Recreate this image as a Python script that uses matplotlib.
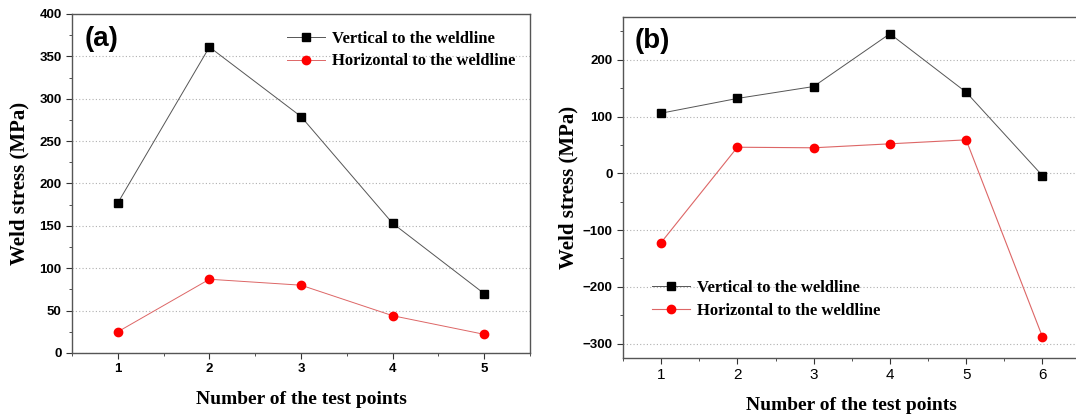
import matplotlib
matplotlib.use("Agg")
import matplotlib.pyplot as plt
from matplotlib.ticker import MultipleLocator

# test points and measured weld stress (MPa)
points_a = [1, 2, 3, 4, 5]
vert_a = [177, 361, 279, 153, 70]
horiz_a = [25, 87, 80, 44, 22]

points_b = [1, 2, 3, 4, 5, 6]
vert_b = [106, 132, 153, 246, 143, -4]
horiz_b = [-122, 46, 45, 52, 59, -288]

lab_v = "Vertical to the weldline"
lab_h = "Horizontal to the weldline"

serif_b = {"family": "Liberation Serif", "weight": "bold"}
leg_font = {"family": "Liberation Serif", "weight": "bold", "size": 12}

fig = plt.figure(figsize=(10.76, 4.17), dpi=100)
ax1 = fig.add_axes([0.0669, 0.1535, 0.4257, 0.813])
# panel (b) runs slightly past the right edge of the figure
ax2 = fig.add_axes([0.579, 0.1422, 0.4252, 0.8163])


def style(ax, bold_x=True, ypad=7):
    for s in ax.spines.values():
        s.set_color("#555555")
        s.set_linewidth(1.0)
    ax.tick_params(direction="out", length=4, width=0.8, color="#333333")
    ax.tick_params(which="minor", direction="out", length=2.5, width=0.6, color="#333333")
    ax.tick_params(top=False, right=False)
    for t in ax.get_yticklabels():
        t.set_fontfamily("Liberation Sans")
        t.set_fontweight("bold")
        t.set_fontsize(9.5)
    for t in ax.get_xticklabels():
        t.set_fontfamily("Liberation Sans")
        t.set_fontweight("bold" if bold_x else "normal")
        t.set_fontsize(9.5 if bold_x else 11)
    ax.grid(axis="y", linestyle=(0, (1, 2)), color="#b0b0b0", linewidth=0.8)
    ax.set_axisbelow(True)
    ax.set_xlabel("Number of the test points", fontsize=14, labelpad=11, **serif_b)
    ax.set_ylabel("Weld stress (MPa)", fontsize=15, labelpad=ypad, **serif_b)


# (a)
ax1.plot(points_a, vert_a, color="#555555", lw=0.7, marker="s", ms=5.3,
         mfc="black", mec="black", label=lab_v)
ax1.plot(points_a, horiz_a, color="#dd6666", lw=0.7, marker="o", ms=6,
         mfc="red", mec="red", label=lab_h)
ax1.set_xlim(0.5, 5.5)
ax1.set_ylim(0, 400)
ax1.set_xticks(points_a)
ax1.xaxis.set_minor_locator(MultipleLocator(0.5))
ax1.yaxis.set_major_locator(MultipleLocator(50))
ax1.yaxis.set_minor_locator(MultipleLocator(25))
style(ax1)
ax1.text(0.028, 0.965, "(a)", transform=ax1.transAxes, fontsize=20,
         fontweight="bold", family="Liberation Sans", va="top")
ax1.legend(loc="upper left", bbox_to_anchor=(0.443, 0.985), frameon=False,
           prop=leg_font, handlelength=2.3, handletextpad=0.4,
           borderaxespad=0.3, labelspacing=0.4)

# (b)
ax2.plot(points_b, vert_b, color="#555555", lw=0.7, marker="s", ms=5.3,
         mfc="black", mec="black", label=lab_v)
ax2.plot(points_b, horiz_b, color="#dd6666", lw=0.8, marker="o", ms=6,
         mfc="red", mec="red", label=lab_h)
ax2.set_xlim(0.5, 6.5)
ax2.set_ylim(-325, 275)
ax2.set_xticks(points_b)
ax2.xaxis.set_minor_locator(MultipleLocator(0.5))
ax2.yaxis.set_major_locator(MultipleLocator(100))
ax2.yaxis.set_minor_locator(MultipleLocator(50))
style(ax2, bold_x=False, ypad=3)
ax2.text(0.026, 0.97, "(b)", transform=ax2.transAxes, fontsize=20,
         fontweight="bold", family="Liberation Sans", va="top")
ax2.legend(loc="lower left", bbox_to_anchor=(0.037, 0.08), frameon=False,
           prop=leg_font, handlelength=2.3, handletextpad=0.4,
           borderaxespad=0.3, labelspacing=0.4)

fig.savefig("out.png", dpi=100)
